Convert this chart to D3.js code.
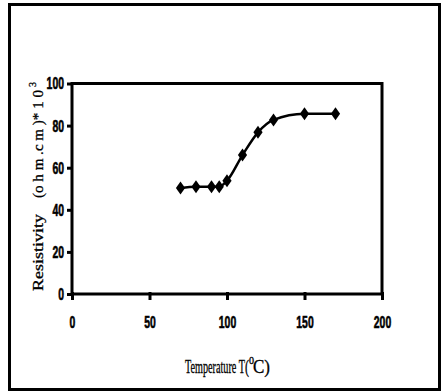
<!DOCTYPE html>
<html><head><meta charset="utf-8">
<script src="https://cdn.jsdelivr.net/npm/d3@7"></script>
<style>body{margin:0;background:#fff}svg{display:block}</style>
</head><body>
<script>
const temperature = [70, 80, 90, 95, 100, 110, 120, 130, 150, 170];
const resistivity = [50.3, 51, 51, 51, 53.8, 66, 76.8, 82.7, 85.6, 85.6];
const xTicks = [0, 50, 100, 150, 200];
const yTicks = [0, 20, 40, 60, 80, 100];

const W = 441, H = 392;
const svg = d3.select("body").append("svg").attr("width", W).attr("height", H);

svg.append("rect").attr("x", 9.5).attr("y", 4.5).attr("width", 430).attr("height", 385)
  .attr("fill", "#fff").attr("stroke", "#000").attr("stroke-width", 3);

const x = d3.scaleLinear().domain([0, 200]).range([72, 382]);
const y = d3.scaleLinear().domain([0, 100]).range([294, 83.5]);

// plot box
svg.append("rect").attr("x", x(0)).attr("y", y(100)).attr("width", x(200) - x(0)).attr("height", y(0) - y(100))
  .attr("fill", "none").attr("stroke", "#000").attr("stroke-width", 3);

const xa = svg.append("g").attr("transform", `translate(0,${y(0)})`)
  .call(d3.axisBottom(x).tickValues(xTicks).tickSize(6).tickPadding(16).tickFormat(d3.format("d")));
xa.select(".domain").remove();
xa.selectAll("line").attr("stroke", "#000").attr("stroke-width", 3).attr("y1", -2);
xa.selectAll("text").attr("font-family", "Liberation Sans, Arial, sans-serif").attr("font-weight", "bold")
  .attr("font-size", 17).attr("fill", "#000").attr("stroke", "#000").attr("stroke-width", 0.6)
  .attr("textLength", d => String(d).length * 5.8).attr("lengthAdjust", "spacingAndGlyphs");

const ya = svg.append("g").attr("transform", `translate(${x(0)},0)`)
  .call(d3.axisLeft(y).tickValues(yTicks).tickSize(5).tickPadding(3).tickFormat(d3.format("d")));
ya.select(".domain").remove();
ya.selectAll("line").attr("stroke", "#000").attr("stroke-width", 3);
ya.selectAll("text").attr("font-family", "Liberation Sans, Arial, sans-serif").attr("font-weight", "bold")
  .attr("font-size", 17).attr("fill", "#000").attr("stroke", "#000").attr("stroke-width", 0.6)
  .attr("textLength", d => String(d).length * 5.8).attr("lengthAdjust", "spacingAndGlyphs");

const pts = temperature.map((t, i) => [t, resistivity[i]]);
svg.append("path").datum(pts)
  .attr("d", d3.line().x(d => x(d[0])).y(d => y(d[1])).curve(d3.curveMonotoneX))
  .attr("fill", "none").attr("stroke", "#000").attr("stroke-width", 2.5);

svg.selectAll(".mk").data(pts).join("path").attr("class", "mk")
  .attr("transform", d => `translate(${x(d[0])},${y(d[1])})`)
  .attr("d", "M0,-6.5L4.6,0L0,6.5L-4.6,0Z").attr("fill", "#000");

// x title
const xt = svg.append("text").attr("y", 373).attr("font-family", "Liberation Serif, Times New Roman, serif")
  .attr("font-size", 18).attr("fill", "#000").attr("stroke", "#000").attr("stroke-width", 0.3);
xt.append("tspan").attr("x", 185).text("Temperature T").attr("textLength", 60).attr("lengthAdjust", "spacingAndGlyphs");
xt.append("tspan").attr("x", 245).text("(").attr("textLength", 4).attr("lengthAdjust", "spacingAndGlyphs");
xt.append("tspan").attr("x", 249).attr("dy", -9).attr("font-size", 10).text("0");
xt.append("tspan").attr("x", 253).attr("dy", 9).text("C)").attr("textLength", 17).attr("lengthAdjust", "spacingAndGlyphs");

// y title
const yt = svg.append("text").attr("transform", "translate(43,291) rotate(-90)")
  .attr("font-family", "Liberation Serif, Times New Roman, serif").attr("font-size", 15).attr("fill", "#000")
  .attr("stroke", "#000").attr("stroke-width", 0.3);
yt.append("tspan").attr("x", 0).text("Resistivity").attr("textLength", 77).attr("lengthAdjust", "spacingAndGlyphs");
yt.append("tspan").attr("x", 93).text("(o h m  .c m  )* 1 0").attr("textLength", 108).attr("lengthAdjust", "spacingAndGlyphs");
yt.append("tspan").attr("x", 204).attr("dy", -7).attr("font-size", 10).text("3");
</script>
</body></html>
